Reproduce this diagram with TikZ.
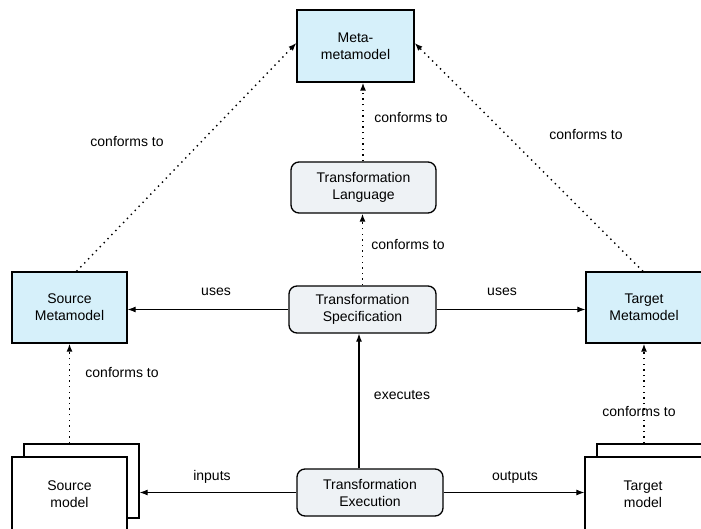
\documentclass[tikz,border=0pt]{standalone}
\usepackage{fontspec}
\setmainfont{Liberation Sans}
\usetikzlibrary{arrows.meta}
\definecolor{metablue}{RGB}{214,240,250}
\definecolor{procgray}{RGB}{238,242,245}
\begin{document}
\begin{tikzpicture}[x=1pt,y=-1pt,
  every node/.style={font=\fontsize{14}{17}\selectfont, align=center, inner sep=0pt},
  metabox/.style={draw=black, line width=1.3pt, fill=metablue, rectangle},
  procbox/.style={draw=black, line width=1.3pt, fill=procgray, rectangle, rounded corners=8pt},
  modelbox/.style={draw=black, line width=1.3pt, fill=white, rectangle},
  arr/.style={line width=1.1pt, -{Latex[length=8pt,width=6pt]}},
  dotarr/.style={line width=1.4pt, dash pattern=on 1.4pt off 4.2pt, -{Latex[length=8pt,width=6pt]}},
  lbl/.style={}]
\useasboundingbox (0,0) rectangle (701,529);
\clip (0,0) rectangle (701,529);
\fill[white] (0,0) rectangle (701,529);
% boxes
\node[metabox, minimum width=117, minimum height=72] (meta) at (355.5,46) {Meta-\\metamodel};
\node[procbox, minimum width=145, minimum height=51] (lang) at (363.5,187.5) {Transformation\\Language};
\node[procbox, minimum width=147, minimum height=47] (spec) at (362.5,309.5) {Transformation\\Specification};
\node[procbox, minimum width=146, minimum height=47] (exec) at (370,492.5) {Transformation\\Execution};
\node[metabox, minimum width=115, minimum height=71] (srcmeta) at (69.5,307.5) {Source\\Metamodel};
\node[metabox, minimum width=116, minimum height=71] (tgtmeta) at (644,307.5) {Target\\Metamodel};
% model stacks
\node[modelbox, minimum width=115, minimum height=74] (srcback) at (81.5,481) {};
\node[modelbox, minimum width=115, minimum height=90] (srcfront) at (69.5,502) {};
\node (srctext) at (69.5,494.5) {Source\\model};
\node[modelbox, minimum width=130, minimum height=90] (tgtback) at (662,489) {};
\node[modelbox, minimum width=130, minimum height=90] (tgtfront) at (650,502) {};
\node (tgttext) at (643,494.5) {Target\\model};
% dotted conforms-to
\draw[dotarr] ([xshift=7]srcmeta.north) -- ([yshift=3]meta.west);
\draw[dotarr] ([xshift=-1]tgtmeta.north) -- ([yshift=3]meta.east);
\draw[dotarr] (lang.north -| meta.south) ++(7.5,0) coordinate (lt) -- (lt |- meta.south);
\draw[dotarr] (spec.north) -- (spec.north |- lang.south);
\draw[dotarr] (srcmeta.south |- srcback.north) -- (srcmeta.south);
\draw[dotarr] (tgtmeta.south |- tgtback.north) -- (tgtmeta.south);
% solid
\draw[arr] (spec.west) -- (srcmeta.east |- spec.west);
\draw[arr] (spec.east) -- (tgtmeta.west |- spec.east);
\draw[arr] ([xshift=-11]exec.north) -- ([xshift=-11]exec.north |- spec.south);
\draw[arr] (exec.west) -- (srcback.east |- exec.west);
\draw[arr] (exec.east) -- (tgtfront.west |- exec.east);
% labels
\node[lbl] (l1) at (127,142) {conforms to};
\node[lbl] (l2) at (411,118) {conforms to};
\node[lbl] (l3) at (408,245) {conforms to};
\node[lbl] (l4) at (586,135) {conforms to};
\node[lbl] (l5) at (122,373) {conforms to};
\node[lbl] (l6) at (639,412) {conforms to};
\node[lbl] (l7) at (216,292) {uses};
\node[lbl] (l8) at (502,292) {uses};
\node[lbl] (l9) at (402,395) {executes};
\node[lbl] (l10) at (212,477) {inputs};
\node[lbl] (l11) at (515,477) {outputs};
\end{tikzpicture}
\end{document}
